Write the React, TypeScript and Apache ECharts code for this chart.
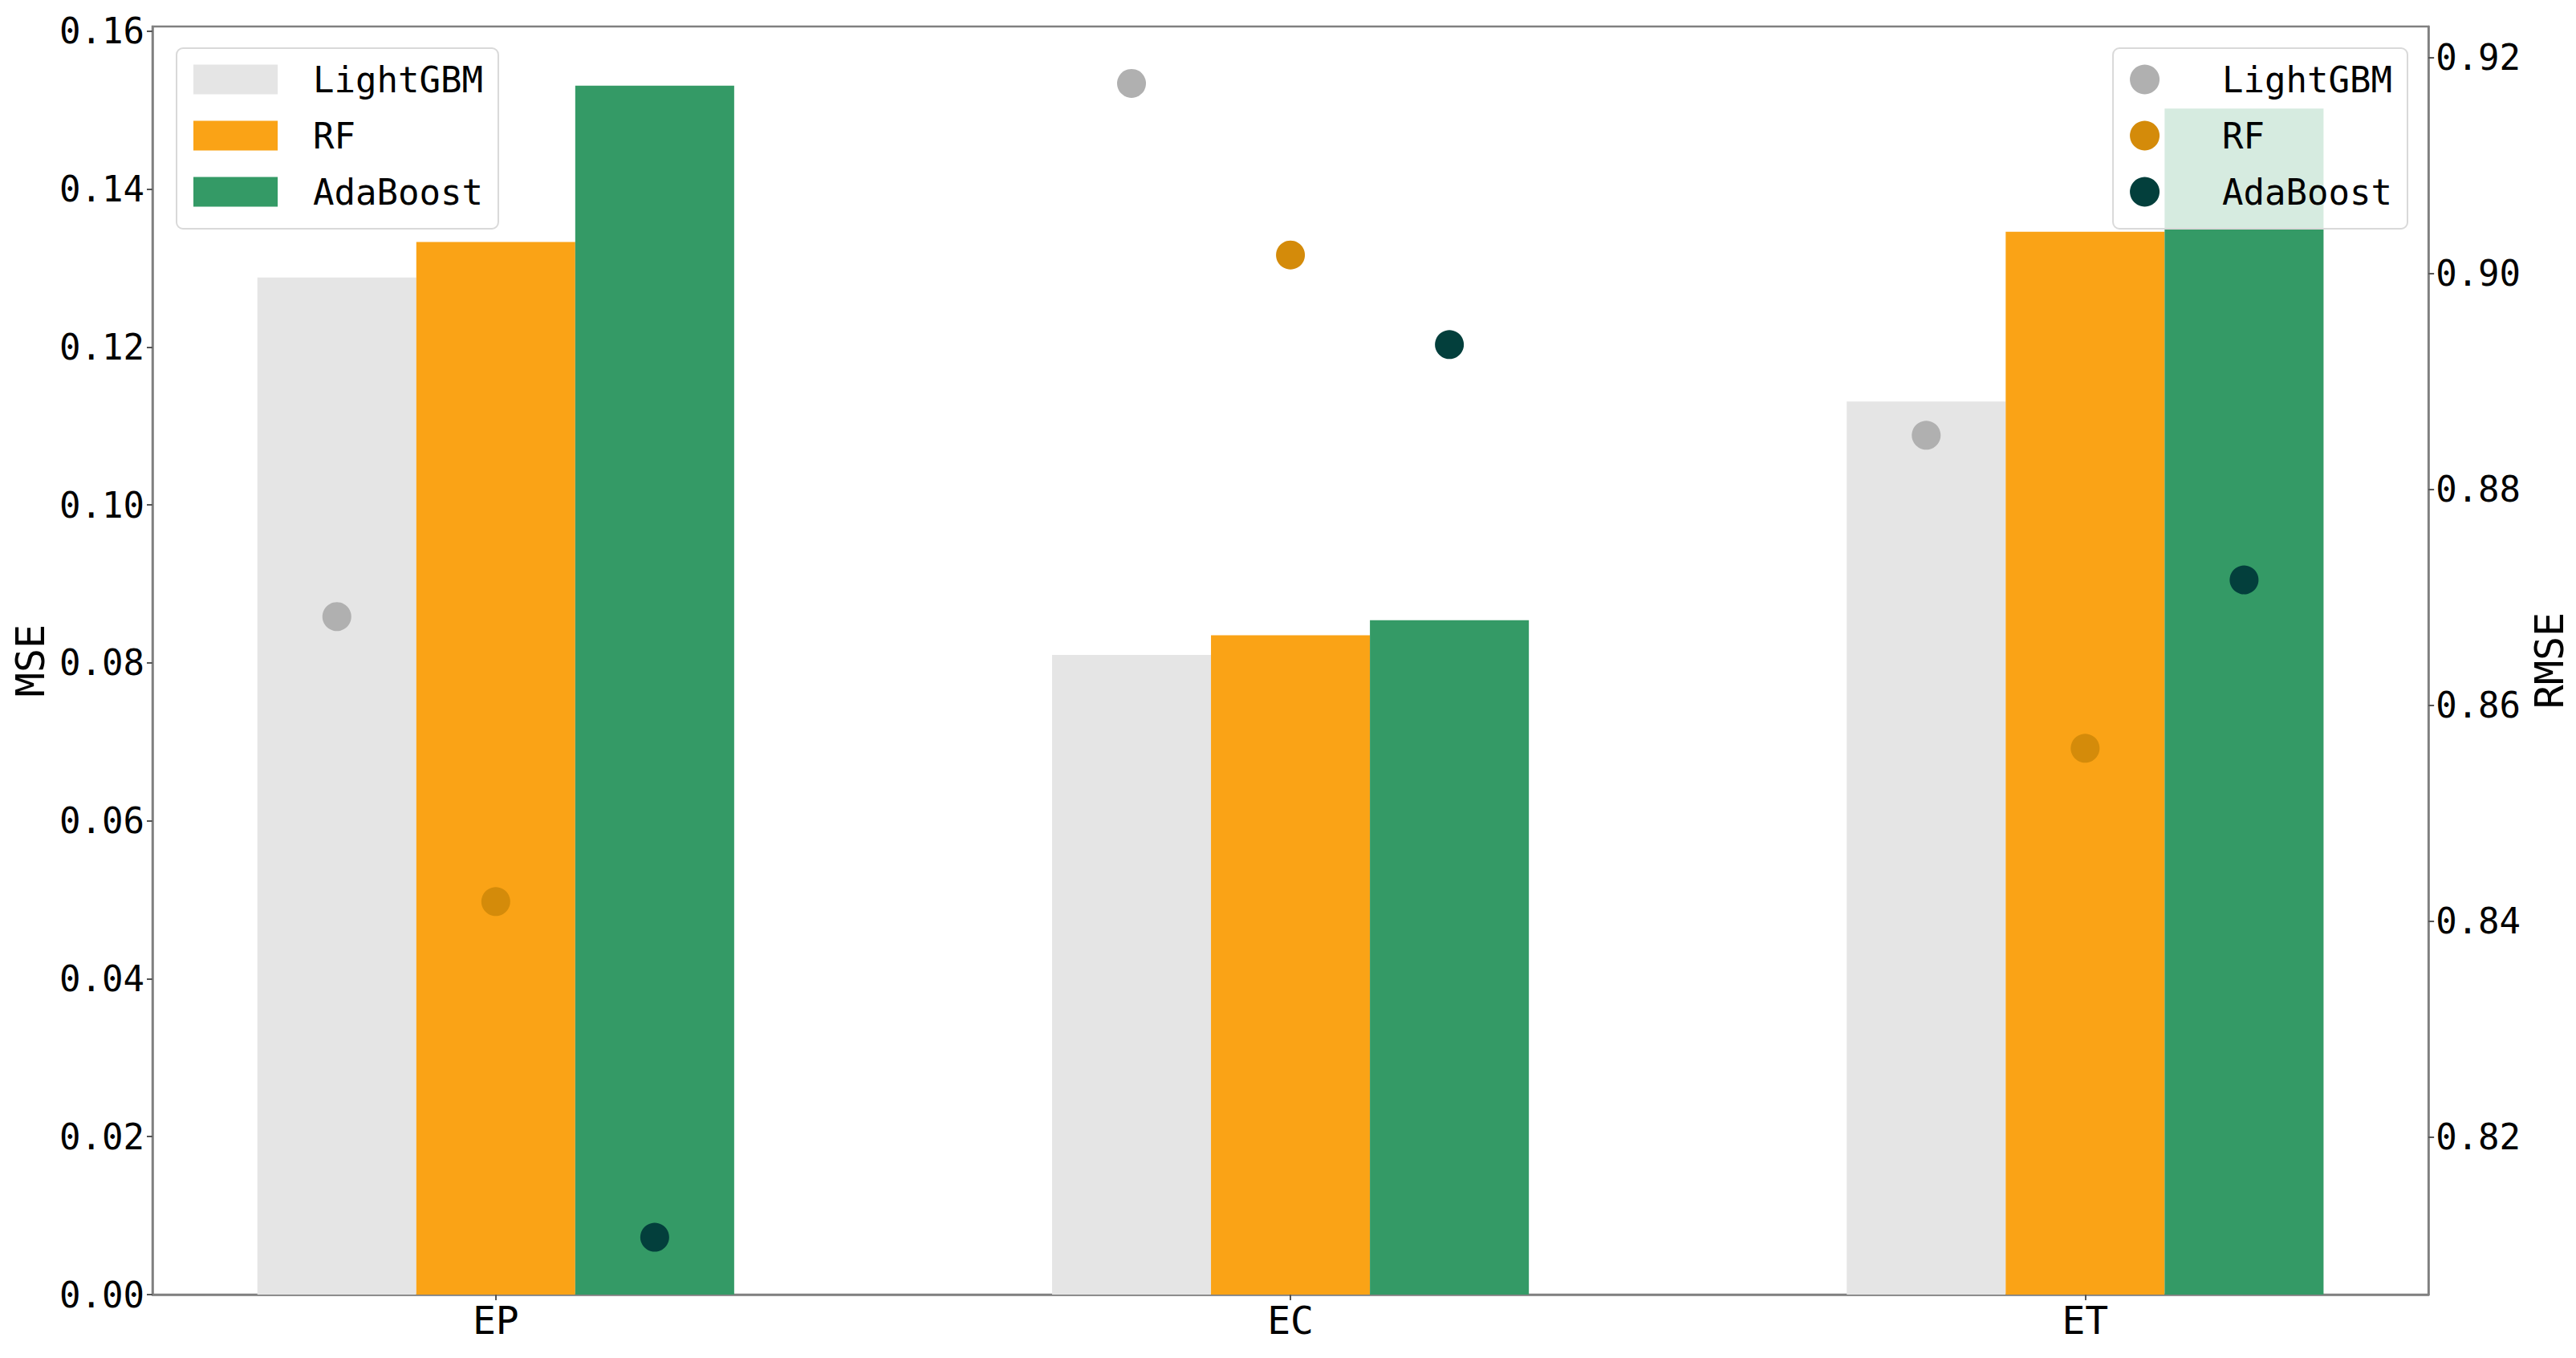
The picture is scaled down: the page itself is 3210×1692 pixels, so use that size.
import React, { useEffect, useRef } from "react";
import * as echarts from "echarts";

const categories = ["EP", "EC", "ET"];
const models = ["LightGBM", "RF", "AdaBoost"];

// MSE (bars, left axis)
const mseLightGBM = [0.1288, 0.081, 0.1131];
const mseRF = [0.1333, 0.0835, 0.1346];
const mseAdaBoost = [0.1531, 0.0854, 0.1502];

// RMSE (points, right axis)
const rmseLightGBM = [0.8682, 0.9176, 0.885];
const rmseRF = [0.8418, 0.9017, 0.856];
const rmseAdaBoost = [0.8107, 0.8934, 0.8716];

const leftTicks = [0, 0.02, 0.04, 0.06, 0.08, 0.1, 0.12, 0.14, 0.16];
const rightTicks = [0.82, 0.84, 0.86, 0.88, 0.9, 0.92];

const barColors = ["#e5e5e5", "#faa316", "#349a66"];
const dotColors = ["#b0b0b0", "#d48b0a", "#033f3c"];
const groupOffsets = [-0.2, 0, 0.2];

const FONT = "DejaVu Sans Mono";
const FRAME = "#808080";

export default function App() {
  const ref = useRef<HTMLDivElement>(null);

  useEffect(() => {
    if (!ref.current) return;
    const chart = echarts.init(ref.current, undefined, { renderer: "svg" });

    const mse = [mseLightGBM, mseRF, mseAdaBoost];
    const rmse = [rmseLightGBM, rmseRF, rmseAdaBoost];

    const barSeries = models.map((m, k) => ({
      name: m,
      type: "bar",
      xAxisIndex: 0,
      yAxisIndex: 0,
      barWidth: "20%",
      barGap: "0%",
      itemStyle: { color: barColors[k] },
      data: categories.map((_, i) => [i, mse[k][i]]),
    }));

    const dotSeries = models.map((m, k) => ({
      name: m,
      type: "scatter",
      xAxisIndex: 0,
      yAxisIndex: 1,
      symbol: "circle",
      symbolSize: 36,
      itemStyle: { color: dotColors[k], opacity: 1 },
      z: 5,
      data: categories.map((_, i) => [i + groupOffsets[k], rmse[k][i]]),
    }));

    const legendBase = {
      orient: "vertical",
      top: 60,
      selectedMode: false,
      itemWidth: 105,
      itemHeight: 37,
      itemGap: 26,
      padding: [17, 19, 24, 21],
      borderColor: "#d9d9d9",
      borderWidth: 2,
      borderRadius: 8,
      backgroundColor: "rgba(255,255,255,0.8)",
      textStyle: {
        fontFamily: FONT,
        fontSize: 44,
        color: "#000",
        padding: [0, 0, 0, 39],
      },
      z: 10,
    };

    const option: any = {
      animation: false,
      backgroundColor: "#ffffff",
      grid: {
        left: 190,
        right: 183,
        top: 33,
        bottom: 79,
        show: true,
        borderColor: FRAME,
        borderWidth: 2.5,
        backgroundColor: "transparent",
      },
      legend: [
        {
          ...legendBase,
          left: 220,
          data: models.map((m, k) => ({
            name: m,
            icon: "rect",
            itemStyle: { color: barColors[k] },
          })),
        },
        {
          ...legendBase,
          right: 210,
          data: models.map((m, k) => ({
            name: m,
            icon: "circle",
            itemStyle: { color: dotColors[k] },
          })),
        },
      ],
      xAxis: {
        type: "value",
        min: -0.432,
        max: 2.432,
        splitLine: { show: false },
        axisLine: { show: true, onZero: false, lineStyle: { color: FRAME, width: 2.5 } },
        axisTick: {
          show: true,
          customValues: categories.map((_, i) => i),
          length: 7,
          lineStyle: { color: "#555", width: 2 },
        },
        axisLabel: {
          customValues: categories.map((_, i) => i),
          formatter: (v: number) => categories[Math.round(v)] ?? "",
          fontFamily: FONT,
          fontSize: 48,
          color: "#000",
          margin: 8,
        },
      },
      yAxis: [
        {
          type: "value",
          position: "left",
          min: 0,
          max: 0.1606,
          name: "MSE",
          nameLocation: "middle",
          nameRotate: 90,
          nameGap: 108,
          nameTextStyle: { fontFamily: FONT, fontSize: 50, color: "#000" },
          splitLine: { show: false },
          axisLine: { show: true, onZero: false, lineStyle: { color: FRAME, width: 2.5 } },
          axisTick: {
            show: true,
            customValues: leftTicks,
            length: 7,
            lineStyle: { color: "#555", width: 2 },
          },
          axisLabel: {
            customValues: leftTicks,
            formatter: (v: number) => v.toFixed(2),
            fontFamily: FONT,
            fontSize: 44,
            color: "#000",
            margin: 10,
          },
        },
        {
          type: "value",
          position: "right",
          min: 0.80539,
          max: 0.92287,
          name: "RMSE",
          nameLocation: "middle",
          nameRotate: 90,
          nameGap: 113,
          nameTextStyle: { fontFamily: FONT, fontSize: 50, color: "#000" },
          splitLine: { show: false },
          axisLine: { show: true, onZero: false, lineStyle: { color: FRAME, width: 2.5 } },
          axisTick: {
            show: true,
            customValues: rightTicks,
            length: 7,
            lineStyle: { color: "#555", width: 2 },
          },
          axisLabel: {
            customValues: rightTicks,
            formatter: (v: number) => v.toFixed(2),
            fontFamily: FONT,
            fontSize: 44,
            color: "#000",
            margin: 9,
          },
        },
      ],
      series: [...barSeries, ...dotSeries],
    };

    chart.setOption(option);
    return () => chart.dispose();
  }, []);

  return (
    <div
      ref={ref}
      style={{ position: "fixed", left: 0, top: 0, width: 3210, height: 1692 }}
    />
  );
}
